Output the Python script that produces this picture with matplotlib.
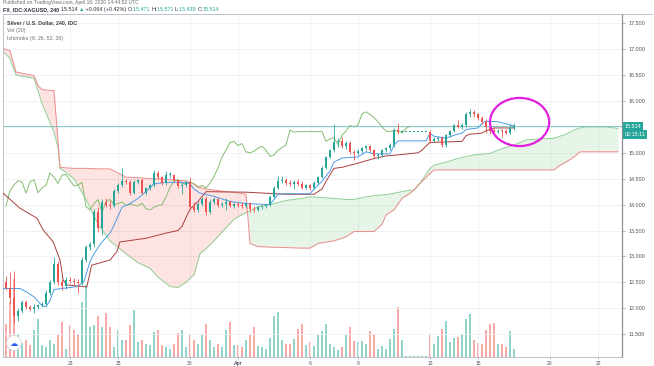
import numpy as np
import matplotlib
matplotlib.use("Agg")
import matplotlib.pyplot as plt
from matplotlib.patches import Ellipse
from matplotlib.lines import Line2D

plt.rcParams['font.family'] = ['Liberation Sans', 'DejaVu Sans']

# ---------------- data (240-minute bars, bar index 0 = first visible candle) ----------------
tick_bars = [16, 28, 46, 58, 76, 88, 106, 118, 136, 148]
tick_labels = ['23', '25', '30', 'Apr', '6', '8', '13', '15', '20', '22']
price_ticks = [11.5, 12.0, 12.5, 13.0, 13.5, 14.0, 14.5, 15.0, 15.5, 16.0, 16.5, 17.0, 17.5]

opens = [12.50, 12.39, 12.20, 11.85, 11.95, 12.12, 12.02, 11.99, 12.02, 12.06,
         12.08, 12.30, 12.50, 12.85, 12.50, 12.43, 12.55, 12.52, 12.50, 12.48,
         12.93, 13.18, 13.24, 13.86, 13.55, 14.05, 14.00, 13.97, 14.27, 14.38,
         14.46, 14.44, 14.22, 14.44, 14.48, 14.23, 14.32, 14.37, 14.61, 14.53,
         14.41, 14.57, 14.58, 14.47, 14.36, 14.38, 14.43, 13.96, 13.90, 14.02,
         14.10, 13.85, 14.06, 14.10, 14.00, 14.02, 14.05, 13.98, 14.01, 13.99,
         13.97, 14.03, 13.92, 13.90, 13.95, 13.98, 14.00, 14.15, 14.33, 14.46,
         14.48, 14.41, 14.40, 14.44, 14.40, 14.33, 14.37, 14.32, 14.42, 14.54,
         14.71, 14.92, 15.05, 15.20, 15.22, 15.14, 15.18, 15.02, 15.00, 15.03,
         15.09, 15.13, 15.05, 14.93, 14.96, 15.05, 15.10, 15.15, 15.44, 15.40,
         15.41, 15.41, 15.41, 15.41, 15.41, 15.41, 15.41, 15.22, 15.27, 15.29,
         15.15, 15.34, 15.42, 15.53, 15.50, 15.54, 15.75, 15.79, 15.74, 15.68,
         15.60, 15.50, 15.45, 15.41, 15.43, 15.42, 15.39, 15.471]
highs = [12.62, 12.70, 12.72, 12.00, 12.16, 12.15, 12.06, 12.08, 12.09, 12.12,
         12.36, 12.55, 12.99, 12.92, 12.56, 12.60, 12.60, 12.58, 12.56, 12.98,
         13.22, 13.28, 13.92, 13.95, 14.10, 14.12, 14.08, 14.30, 14.42, 14.70,
         14.50, 14.48, 14.48, 14.50, 14.52, 14.34, 14.40, 14.67, 14.64, 14.56,
         14.64, 14.62, 14.60, 14.50, 14.42, 14.46, 14.54, 14.05, 14.05, 14.14,
         14.16, 14.10, 14.14, 14.13, 14.06, 14.13, 14.08, 14.04, 14.05, 14.06,
         14.05, 14.06, 13.98, 13.98, 14.00, 14.02, 14.18, 14.36, 14.56, 14.55,
         14.52, 14.48, 14.48, 14.50, 14.46, 14.40, 14.40, 14.45, 14.56, 14.74,
         14.94, 15.08, 15.56, 15.28, 15.30, 15.22, 15.22, 15.06, 15.08, 15.12,
         15.16, 15.16, 15.08, 15.00, 15.08, 15.12, 15.18, 15.48, 15.58, 15.45,
         15.41, 15.41, 15.41, 15.41, 15.41, 15.41, 15.45, 15.30, 15.32, 15.33,
         15.36, 15.45, 15.56, 15.63, 15.58, 15.78, 15.84, 15.82, 15.77, 15.72,
         15.66, 15.56, 15.48, 15.46, 15.46, 15.46, 15.56, 15.571]
lows = [12.35, 12.10, 11.72, 11.75, 11.90, 11.98, 11.94, 11.90, 11.98, 12.02,
        12.04, 12.26, 12.46, 12.45, 12.36, 12.38, 12.48, 12.44, 12.30, 12.45,
        12.90, 13.12, 13.18, 13.48, 13.42, 13.95, 13.92, 13.95, 14.22, 14.34,
        14.40, 14.18, 14.20, 14.40, 14.20, 14.18, 14.28, 14.34, 14.50, 14.38,
        14.38, 14.52, 14.44, 14.33, 14.20, 14.34, 13.92, 13.86, 13.86, 13.98,
        13.80, 13.82, 14.02, 13.96, 13.96, 13.90, 13.95, 13.94, 13.96, 13.94,
        13.93, 13.85, 13.86, 13.88, 13.92, 13.94, 13.97, 14.12, 14.30, 14.42,
        14.38, 14.36, 14.30, 14.36, 14.30, 14.30, 14.28, 14.30, 14.40, 14.52,
        14.68, 14.90, 15.02, 15.12, 15.10, 15.08, 14.98, 14.86, 14.95, 15.00,
        15.05, 15.02, 14.90, 14.88, 14.92, 15.02, 15.06, 15.12, 15.36, 15.38,
        15.41, 15.41, 15.41, 15.41, 15.41, 15.41, 15.18, 15.20, 15.22, 15.12,
        15.12, 15.30, 15.40, 15.48, 15.46, 15.50, 15.70, 15.70, 15.64, 15.56,
        15.38, 15.36, 15.36, 15.38, 15.31, 15.36, 15.36, 15.439]
closes = [12.39, 12.20, 11.85, 11.95, 12.12, 12.02, 11.99, 12.02, 12.06, 12.08,
          12.30, 12.50, 12.85, 12.50, 12.43, 12.55, 12.52, 12.50, 12.48, 12.93,
          13.18, 13.24, 13.86, 13.55, 14.05, 14.00, 13.97, 14.27, 14.38, 14.46,
          14.44, 14.22, 14.44, 14.48, 14.23, 14.32, 14.37, 14.61, 14.53, 14.41,
          14.57, 14.58, 14.47, 14.36, 14.38, 14.43, 13.96, 13.90, 14.02, 14.10,
          13.85, 14.06, 14.10, 14.00, 14.02, 14.05, 13.98, 14.01, 13.99, 13.97,
          14.03, 13.92, 13.90, 13.95, 13.98, 14.00, 14.15, 14.33, 14.46, 14.48,
          14.41, 14.40, 14.44, 14.40, 14.33, 14.37, 14.32, 14.42, 14.54, 14.71,
          14.92, 15.05, 15.20, 15.22, 15.14, 15.18, 15.02, 15.00, 15.03, 15.09,
          15.13, 15.05, 14.93, 14.96, 15.05, 15.10, 15.15, 15.44, 15.40, 15.41,
          15.41, 15.41, 15.41, 15.41, 15.41, 15.41, 15.22, 15.27, 15.29, 15.15,
          15.34, 15.42, 15.53, 15.50, 15.54, 15.75, 15.79, 15.74, 15.68, 15.60,
          15.50, 15.42, 15.41, 15.43, 15.42, 15.39, 15.47, 15.514]
volumes = [33, 55, 78, 23, 14, 17, 12, 27, 38, 12,
           10, 17, 13, 23, 35, 8, 32, 27, 23, 55,
           72, 30, 32, 41, 30, 44, 30, 10, 27, 17,
           17, 32, 47, 15, 17, 13, 12, 25, 27, 12,
           10, 8, 13, 24, 27, 10, 22, 17, 13, 23,
           33, 17, 10, 13, 10, 27, 35, 12, 12, 10,
           17, 23, 30, 11, 10, 8, 19, 41, 45, 17,
           13, 13, 18, 28, 33, 12, 15, 11, 22, 26,
           33, 13, 10, 7, 10, 22, 30, 16, 15, 16,
           13, 26, 23, 8, 11, 8, 18, 28, 50, 17,
           1, 1, 1, 1, 1, 1, 23, 13, 21, 28,
           36, 15, 19, 20, 23, 38, 43, 17, 14, 13,
           27, 33, 34, 13, 13, 10, 26, 8]

# Ichimoku (9, 26, 52, 26) lines (vertex lists)
tenkan_x = [-1, 3.5, 5, 7, 9, 10, 11, 12, 18, 19.5, 21, 22, 24, 26, 27, 29, 31, 33, 35, 37,
            40, 45, 46, 47, 48.5, 52, 56, 60, 66, 67, 68, 70, 76, 77, 79, 80, 81, 82, 84, 88,
            90, 92, 96, 97, 98, 105, 106, 107, 110, 112, 114, 115, 118, 119, 120, 123, 125, 127]
tenkan_y = [12.38, 12.38, 12.32, 12.22, 12.05, 12.03, 12.15, 12.36, 12.42, 12.52,
            12.90, 13.05, 13.28, 13.45, 13.60, 13.95, 14.02, 14.12, 14.25, 14.40,
            14.43, 14.43, 14.40, 14.30, 14.22, 14.16, 14.06, 14.02, 14.00, 14.10,
            14.20, 14.21, 14.21, 14.30, 14.45, 14.55, 14.65, 14.82, 14.90, 14.92,
            15.02, 14.98, 14.98, 15.15, 15.23, 15.23, 15.38, 15.32, 15.28, 15.34,
            15.38, 15.45, 15.48, 15.57, 15.61, 15.60, 15.56, 15.52]
kijun_x = [-1, 3.5, 7.7, 9.3, 11.8, 13.5, 14.3, 15.2, 20.2, 21.4, 26, 27.7, 28.5, 35, 40, 43,
           44, 45, 46, 48, 50, 60, 70, 77, 79, 80, 82, 84, 88, 92, 95, 98, 103, 104, 105, 106,
           114, 115, 116, 119, 120, 121, 122, 127]
kijun_y = [14.24, 13.93, 13.74, 13.51, 13.28, 12.93, 12.54, 12.45, 12.41, 12.83,
           12.93, 13.09, 13.28, 13.35, 13.45, 13.50, 13.58, 13.75, 13.91, 14.06,
           14.25, 14.24, 14.20, 14.20, 14.30, 14.45, 14.70, 14.72, 14.80, 14.89,
           14.94, 14.96, 15.00, 15.05, 15.13, 15.20, 15.22, 15.33, 15.36, 15.38,
           15.43, 15.45, 15.48, 15.48]
cloud_x = [-1, 1, 2.5, 7, 8, 9, 12, 13, 13.5, 15, 17, 20, 23, 26, 30, 33, 36, 38, 41, 43,
           45, 47, 48.5, 50, 52, 55, 57, 60, 61, 63, 66, 70, 74, 76, 78, 82, 85, 87, 90, 92,
           94, 95, 97, 99, 101, 102, 104, 106, 107, 110, 113, 117, 121, 124, 127, 130, 134,
           137, 138.5, 140, 142, 143.5, 145, 150, 153]
span_a = [16.98, 16.82, 16.50, 16.44, 16.20, 15.95, 15.40, 15.10, 14.70, 14.62,
          14.50, 14.10, 13.62, 13.30, 13.05, 12.88, 12.77, 12.60, 12.42, 12.40,
          12.50, 12.65, 13.05, 13.15, 13.30, 13.55, 13.72, 13.85, 13.88, 13.96,
          14.00, 14.08, 14.12, 14.15, 14.14, 14.12, 14.10, 14.10, 14.15, 14.17,
          14.19, 14.19, 14.22, 14.25, 14.28, 14.28, 14.47, 14.70, 14.76, 14.82,
          14.89, 14.96, 14.99, 15.08, 15.15, 15.25, 15.27, 15.28, 15.32, 15.36,
          15.44, 15.48, 15.50, 15.50, 15.47]
span_b = [17.02, 16.97, 16.56, 16.49, 16.30, 16.22, 16.20, 15.23, 14.72, 14.71,
          14.70, 14.70, 14.69, 14.69, 14.53, 14.52, 14.50, 14.50, 14.48, 14.47,
          14.46, 14.40, 14.33, 14.30, 14.28, 14.25, 14.24, 14.20, 13.25, 13.19,
          13.18, 13.17, 13.16, 13.16, 13.25, 13.30, 13.38, 13.48, 13.48, 13.48,
          13.62, 13.80, 13.90, 14.12, 14.22, 14.28, 14.45, 14.60, 14.67, 14.67,
          14.67, 14.67, 14.67, 14.67, 14.67, 14.67, 14.67, 14.67, 14.76, 14.82,
          14.92, 15.02, 15.02, 15.02, 15.02]
lag_shift = 26
last_price = 15.514

# ---------------- styling ----------------
W, H = 654, 366
UP, DOWN = '#26a69a', '#ef5350'
VUP, VDOWN = '#92d3cc', '#f6a9a7'

fig = plt.figure(figsize=(W / 100, H / 100), dpi=100)
fig.patch.set_facecolor('white')


def fx(px):
    return px / W


def fy(py):
    return 1 - py / H


rect = [fx(3), fy(357), fx(622) - fx(3), fy(14) - fy(357)]
axv = fig.add_axes(rect)
ax = fig.add_axes(rect)
ax.patch.set_visible(False)

xmin, xmax = -0.75, 154.0
ymin, ymax = 11.058, 17.68

# volume pane (behind)
o = np.array(opens)
h = np.array(highs)
l = np.array(lows)
c = np.array(closes)
v = np.array(volumes)
x = np.arange(len(c))
up = c >= o
axv.bar(x, v, width=0.72, color=np.where(up, VUP, VDOWN), linewidth=0)
axv.set_xlim(xmin, xmax)
axv.set_ylim(0, 343)
axv.axis('off')

# grid
for tb in tick_bars:
    ax.axvline(tb, color='#eef0f3', lw=0.6, zorder=0)
for pt in price_ticks:
    ax.axhline(pt, color='#eef0f3', lw=0.6, zorder=0)

# cloud
ca = np.array(span_a)
cb = np.array(span_b)
ax.fill_between(cloud_x, ca, cb, where=ca >= cb, interpolate=True,
                color='#4caf50', alpha=0.13, linewidth=0, zorder=1)
ax.fill_between(cloud_x, ca, cb, where=ca < cb, interpolate=True,
                color='#f44336', alpha=0.15, linewidth=0, zorder=1)
ax.plot(cloud_x, span_a, color='#8fcf93', lw=0.7, zorder=2)
ax.plot(cloud_x, span_b, color='#ec8b8b', lw=0.7, zorder=2)

# lagging span
ax.plot(x[lag_shift:] - lag_shift, c[lag_shift:], color='#86bd72', lw=0.7, zorder=2)

# price line
ax.axhline(last_price, color='#6cc5bd', lw=0.6, zorder=2)

# base and conversion lines
ax.plot(kijun_x, kijun_y, color='#a8403f', lw=0.7, zorder=3)
ax.plot(tenkan_x, tenkan_y, color='#4a9be8', lw=0.7, zorder=3)

# candles
cols = np.where(up, UP, DOWN)
ax.vlines(x, l, h, colors=cols, lw=0.6, zorder=4)
ax.bar(x, np.maximum(np.abs(c - o), 0.02), bottom=np.minimum(o, c), width=0.72,
       color=cols, linewidth=0, zorder=5)

# hand-drawn circle
ax.add_patch(Ellipse((128.4, 15.595), width=14.8, height=0.93, fill=False,
                     ec='#e21fe0', lw=1.6, zorder=7))

ax.set_xlim(xmin, xmax)
ax.set_ylim(ymin, ymax)

# axes / ticks (the 15.500 label sits under the last-price box)
ax.yaxis.tick_right()
ax.set_yticks(price_ticks)
ax.set_yticklabels(['' if abs(p - 15.5) < 1e-9 else f'{p:.3f}' for p in price_ticks])
ax.tick_params(axis='y', length=2, width=0.5, color='#9598a1', labelsize=3.9,
               labelcolor='#50535e', pad=2.5)
ax.set_xticks(tick_bars)
ax.set_xticklabels(tick_labels)
ax.tick_params(axis='x', length=1.5, width=0.5, color='#9598a1', labelsize=3.6,
               labelcolor='#50535e', pad=1.5)
for lab in ax.get_xticklabels():
    if lab.get_text() == 'Apr':
        lab.set_fontweight('bold')
for sp in ax.spines.values():
    sp.set_color('#b4b7bf')
    sp.set_linewidth(0.6)
ax.spines['right'].set_color('#8a8d96')
ax.spines['right'].set_linewidth(0.9)
fig.add_artist(Line2D([fx(622), fx(652)], [fy(14), fy(14)], color='#b4b7bf', lw=0.6))

# price label boxes on axis
tr = ax.get_yaxis_transform()
ax.text(1.004, last_price, '15.514', transform=tr, fontsize=3.9, color='white',
        va='center', ha='left', zorder=10,
        bbox=dict(boxstyle='square,pad=0.35', fc=UP, ec='none'))
ax.text(1.004, 15.36, '02:15:11', transform=tr, fontsize=3.9, color='white',
        va='center', ha='left', zorder=10,
        bbox=dict(boxstyle='square,pad=0.35', fc=UP, ec='none'))

# legend texts inside the chart
fig.text(fx(7), fy(23), 'Silver / U.S. Dollar, 240, IDC', fontsize=3.8, color='#3b3e47',
         va='center', ha='left', fontweight='bold')
fig.text(fx(7), fy(30.7), 'Vol (20)', fontsize=3.8, color='#6a6d78', va='center', ha='left')
fig.text(fx(7), fy(38.3), 'Ichimoku (9, 26, 52, 26)', fontsize=3.8, color='#6a6d78',
         va='center', ha='left')

# header
fig.text(fx(3), fy(2.5), 'Published on TradingView.com, April 16, 2020 14:44:52 UTC',
         fontsize=3.6, color='#6a6d78', va='center', ha='left')
renderer = fig.canvas.get_renderer()
segs = [('FX_IDC:XAGUSD, 240 ', '#2a2e39', 'bold'),
        ('15.514 ', '#2a2e39', 'normal'),
        ('\u25b2', UP, 'normal'),
        (' +0.064 (+0.42%) ', '#2a2e39', 'normal'),
        ('O:', '#2a2e39', 'normal'), ('15.471 ', UP, 'normal'),
        ('H:', '#2a2e39', 'normal'), ('15.571 ', UP, 'normal'),
        ('L:', '#2a2e39', 'normal'), ('15.439 ', UP, 'normal'),
        ('C:', '#2a2e39', 'normal'), ('15.514', UP, 'normal')]
xpos = fx(3)
for s, col, wt in segs:
    t = fig.text(xpos, fy(9.5), s, fontsize=3.9, color=col, fontweight=wt,
                 va='center', ha='left', family=['Liberation Sans', 'DejaVu Sans'])
    bb = t.get_window_extent(renderer=renderer)
    xpos += bb.width / fig.bbox.width

# TradingView logo badge
fig.text(fx(14), fy(343), '\u2601', fontsize=6, color='#2962ff', ha='center', va='center',
         family=['DejaVu Sans'],
         bbox=dict(boxstyle='circle,pad=0.35', fc='white', ec='#d6d8de', lw=0.6))

fig.savefig('out.png', dpi=100, facecolor='white')
